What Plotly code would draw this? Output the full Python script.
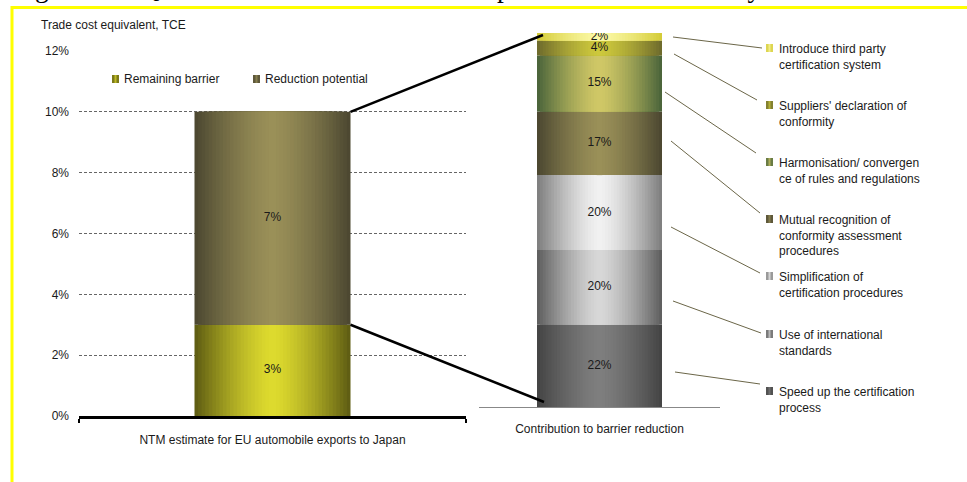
import plotly.graph_objects as go

# ---------------- data ----------------
title_text = "Figure 6.5: Quantification of cost reduction potential for conformity"
y_axis_title = "Trade cost equivalent, TCE"

left_category = "NTM estimate for EU automobile exports to Japan"
left_series = ["Remaining barrier", "Reduction potential"]
left_values = [0.03, 0.07]
left_ticks = [0.0, 0.02, 0.04, 0.06, 0.08, 0.10, 0.12]

right_category = "Contribution to barrier reduction"
right_series = [
    "Speed up the certification process",
    "Use of international standards",
    "Simplification of certification procedures",
    "Mutual recognition of conformity assessment procedures",
    "Harmonisation/ convergence of rules and regulations",
    "Suppliers' declaration of conformity",
    "Introduce third party certification system",
]
right_legend_text = [
    "Speed up the certification<br>process",
    "Use of international<br>standards",
    "Simplification of<br>certification procedures",
    "Mutual recognition of<br>conformity assessment<br>procedures",
    "Harmonisation/ convergen<br>ce of rules and regulations",
    "Suppliers' declaration of<br>conformity",
    "Introduce third party<br>certification system",
]
right_values = [22, 20, 20, 17, 15, 4, 2]

# ---------------- styles / layout constants ----------------
W, H = 967, 482
FONT = "Liberation Sans, Arial, sans-serif"
FS = 12
TXT = "#1a1a1a"

left_edge = ["#5c5a12", "#4a4630"]
left_center = ["#dedb2e", "#9a9058"]
right_edge = ["#434343", "#5c5c5c", "#7c7c7c", "#4a4630", "#48623a", "#6c692c", "#d3cb36"]
right_center = ["#7e7e7e", "#d8d8d8", "#f2f2f2", "#9a9058", "#d0c866", "#cdc83c", "#fbf8a4"]

# pixel geometry of the two plot areas
L_X0, L_X1, L_Y0, L_Y1 = 79, 466, 416, 51      # left: x px range, y px for 0 and 12%
R_X0, R_X1, R_Y0, R_Y1 = 479, 720, 407, 33      # right: x px range, y px for 0 and 100
L_BAR_W = 156 / (L_X1 - L_X0)
R_BAR_W = 125 / (R_X1 - R_X0)
L_YMAX, R_YMAX = 0.12, 100

# leader lines (px) from bar segments to legend texts, in right_series order
leader_start = [(675, 372), (673, 301), (671, 227), (671, 141), (665, 92), (674, 54), (673, 37)]
leader_end = [(760, 384), (761, 333), (760, 273), (760, 213), (756, 153), (757, 100), (762, 48)]
legend_first_line_y = [391, 334, 276, 219, 162, 105, 48]
legend_x_marker, legend_x_text = 766, 777


def px(x):
    return x / W


def py(y):
    return 1 - y / H


def hex2rgb(h):
    h = h.lstrip("#")
    return [int(h[i:i + 2], 16) for i in (0, 2, 4)]


def mix(c1, c2, t):
    a, b = hex2rgb(c1), hex2rgb(c2)
    return "rgb({},{},{})".format(*[round(a[i] + (b[i] - a[i]) * t) for i in range(3)])


fig = go.Figure()

N = 22


def gradient_bar(xa, ya, base, value, width, edge, center, name):
    for i in range(N):
        frac = 1 - i / N
        d = 1 - (i + 0.5) / N
        col = mix(center, edge, d ** 1.4)
        fig.add_trace(go.Bar(
            x=[0], y=[value], base=[base], width=width * frac,
            marker=dict(color=col, line=dict(width=0)),
            xaxis=xa, yaxis=ya, hoverinfo="skip", showlegend=False,
            name=name, legendgroup=name,
        ))


# left stacked bar
base = 0
l_centers = []
for s, v, e, c in zip(left_series, left_values, left_edge, left_center):
    gradient_bar("x", "y", base, v, L_BAR_W, e, c, s)
    l_centers.append(base + v / 2)
    base += v
left_total = base
fig.add_trace(go.Scatter(
    x=[0] * len(left_values), y=l_centers, mode="text",
    text=[f"{v:.0%}" for v in left_values],
    textfont=dict(family=FONT, size=FS, color=TXT),
    xaxis="x", yaxis="y", hoverinfo="skip", showlegend=False,
))

# right stacked bar
base = 0
r_centers = []
for s, v, e, c in zip(right_series, right_values, right_edge, right_center):
    gradient_bar("x2", "y2", base, v, R_BAR_W, e, c, s)
    r_centers.append(base + v / 2)
    base += v
fig.add_trace(go.Scatter(
    x=[0] * len(right_values), y=r_centers, mode="text",
    text=[f"{v}%" for v in right_values],
    textfont=dict(family=FONT, size=FS, color=TXT),
    xaxis="x2", yaxis="y2", hoverinfo="skip", showlegend=False,
))

shapes = []
annotations = []

# yellow frame
shapes.append(dict(type="line", xref="paper", yref="paper", x0=px(11), x1=px(970), y0=py(7.5), y1=py(7.5),
                   line=dict(color="#ffff00", width=3)))
shapes.append(dict(type="line", xref="paper", yref="paper", x0=px(12), x1=px(12), y0=py(6), y1=py(490),
                   line=dict(color="#ffff00", width=3)))


# connector lines between the two bars
def lx(x):
    return L_X0 + (x + 0.5) * (L_X1 - L_X0)


def ly(y):
    return L_Y0 + y / L_YMAX * (L_Y1 - L_Y0)


def rx(x):
    return R_X0 + (x + 0.5) * (R_X1 - R_X0)


def ry(y):
    return R_Y0 + y / R_YMAX * (R_Y1 - R_Y0)


shapes.append(dict(type="line", xref="paper", yref="paper",
                   x0=px(lx(L_BAR_W / 2)), y0=py(ly(left_total)),
                   x1=px(rx(-R_BAR_W / 2) + 6), y1=py(ry(sum(right_values)) + 2),
                   line=dict(color="black", width=2.5)))
shapes.append(dict(type="line", xref="paper", yref="paper",
                   x0=px(lx(L_BAR_W / 2)), y0=py(ly(left_values[0])),
                   x1=px(rx(-R_BAR_W / 2) + 7), y1=py(ry(0) - 5),
                   line=dict(color="black", width=2.5)))

# leader lines + right legend
for (sx, sy), (ex, ey), ly0, txt, e, c in zip(leader_start, leader_end, legend_first_line_y,
                                             right_legend_text, right_edge, right_center):
    shapes.append(dict(type="line", xref="paper", yref="paper", x0=px(sx), y0=py(sy), x1=px(ex), y1=py(ey),
                       line=dict(color="#6b6648", width=1)))
    shapes.append(dict(type="rect", xref="paper", yref="paper", x0=px(legend_x_marker), x1=px(legend_x_marker + 7),
                       y0=py(ly0 - 4), y1=py(ly0 + 4), line=dict(width=0), fillcolor=mix(e, c, 0.25)))
    shapes.append(dict(type="rect", xref="paper", yref="paper", x0=px(legend_x_marker + 2.5), x1=px(legend_x_marker + 4.5),
                       y0=py(ly0 - 4), y1=py(ly0 + 4), line=dict(width=0), fillcolor=mix(e, c, 0.75)))
    annotations.append(dict(xref="paper", yref="paper", x=px(legend_x_text), y=py(ly0 - 8),
                            xanchor="left", yanchor="top", align="left", showarrow=False, text=txt,
                            font=dict(family=FONT, size=FS, color=TXT)))

# left legend
for s, e, c, mx in zip(left_series, left_edge, left_center, [112, 253]):
    shapes.append(dict(type="rect", xref="paper", yref="paper", x0=px(mx), x1=px(mx + 7),
                       y0=py(75), y1=py(83), line=dict(width=0), fillcolor=mix(e, c, 0.25)))
    shapes.append(dict(type="rect", xref="paper", yref="paper", x0=px(mx + 2.5), x1=px(mx + 4.5),
                       y0=py(75), y1=py(83), line=dict(width=0), fillcolor=mix(e, c, 0.75)))
    annotations.append(dict(xref="paper", yref="paper", x=px(mx + 10), y=py(79),
                            xanchor="left", yanchor="middle", showarrow=False, text=s,
                            font=dict(family=FONT, size=FS, color=TXT)))

# y axis title
annotations.append(dict(xref="paper", yref="paper", x=px(39), y=py(25), xanchor="left", yanchor="middle",
                        showarrow=False, text=y_axis_title, font=dict(family=FONT, size=FS, color=TXT)))

# clipped document caption at very top
annotations.append(dict(xref="paper", yref="paper", x=px(10), y=py(-13), xanchor="left", yanchor="middle",
                        showarrow=False, text=title_text,
                        font=dict(family="Liberation Serif, Times New Roman, serif", size=27.5, color="black")))

fig.update_layout(
    template="none",
    width=W, height=H, autosize=False,
    margin=dict(l=0, r=0, t=0, b=0, pad=0, autoexpand=False),
    paper_bgcolor="white", plot_bgcolor="rgba(0,0,0,0)",
    barmode="overlay", hovermode=False, showlegend=False,
    font=dict(family=FONT, size=FS, color=TXT),
    shapes=shapes, annotations=annotations,
    xaxis=dict(domain=[px(L_X0), px(L_X1)], range=[-0.5, 0.5], anchor="y", automargin=False,
               showline=True, linecolor="black", linewidth=3, showgrid=False, zeroline=False,
               tickmode="array", tickvals=[0], ticktext=[left_category], ticks="",
               ticklabelstandoff=11, tickfont=dict(family=FONT, size=FS, color=TXT),
               minor=dict(tickmode="array", tickvals=[-0.5, 0.5], ticks="outside", ticklen=4,
                          tickwidth=2, tickcolor="black", showgrid=False),
               fixedrange=True),
    yaxis=dict(domain=[py(L_Y0), py(L_Y1)], range=[0, L_YMAX], anchor="x", automargin=False,
               tickmode="array", tickvals=left_ticks, tickformat=".0%", ticks="",
               showgrid=True, gridcolor="#666666", gridwidth=1, griddash="3px,2px",
               zeroline=False, showline=False, ticklabelstandoff=9,
               tickfont=dict(family=FONT, size=FS, color=TXT), fixedrange=True),
    xaxis2=dict(domain=[px(R_X0), px(R_X1)], range=[-0.5, 0.5], anchor="y2", automargin=False,
                showline=True, linecolor="#888888", linewidth=1, showgrid=False, zeroline=False,
                tickmode="array", tickvals=[0], ticktext=[right_category], ticks="",
                ticklabelstandoff=11, tickfont=dict(family=FONT, size=FS, color=TXT), fixedrange=True),
    yaxis2=dict(domain=[py(R_Y0), py(R_Y1)], range=[0, R_YMAX], anchor="x2", visible=False,
                automargin=False, fixedrange=True),
)

fig.write_html("out.html", config={"displayModeBar": False},
               post_script="document.body.style.margin='0px';")
